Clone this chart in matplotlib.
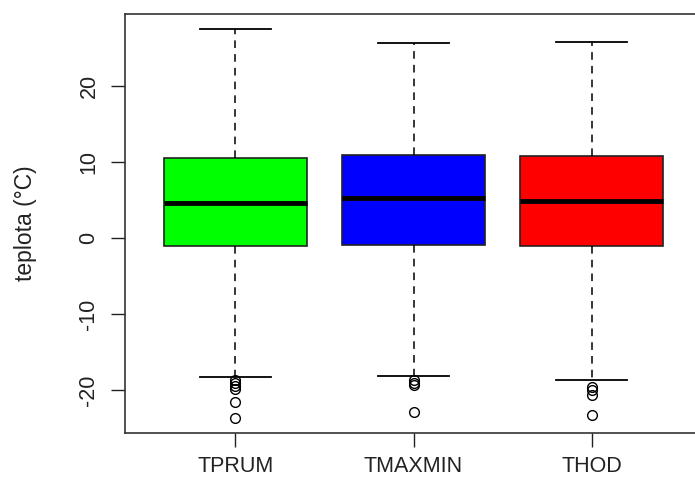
import matplotlib
matplotlib.use("Agg")
import matplotlib.pyplot as plt

plt.rcParams['font.family'] = ['Liberation Sans', 'DejaVu Sans']

categories = ["TPRUM", "TMAXMIN", "THOD"]
colors = ["#00FF00", "#0000FF", "#FF0000"]

# five-number summaries (°C)
whisker_low = [-18.3, -18.1, -18.6]
q1 = [-1.0, -0.9, -1.0]
medians = [4.7, 5.3, 4.9]
q3 = [10.6, 11.0, 10.8]
whisker_high = [27.5, 25.7, 25.8]

# outlying values below the lower whisker
outliers = [
    [-18.6, -19.0, -19.4, -19.8, -21.5, -23.6],
    [-18.6, -19.0, -19.3, -22.9],
    [-19.5, -19.9, -20.6, -23.2],
]

stats = []
for i, name in enumerate(categories):
    stats.append(dict(label=name, whislo=whisker_low[i], q1=q1[i], med=medians[i],
                      q3=q3[i], whishi=whisker_high[i], fliers=outliers[i]))

W, H = 695, 491
fig = plt.figure(figsize=(W / 100, H / 100), dpi=100)
# plot region: the right edge runs past the figure border
ax = fig.add_axes([125 / W, 58 / H, 577 / W, 419 / H])

bp = ax.bxp(stats, positions=[1, 2, 3], widths=0.8, patch_artist=True,
            boxprops=dict(linewidth=1.2, edgecolor="#222222"),
            medianprops=dict(color="black", linewidth=3.5, solid_capstyle="butt"),
            whiskerprops=dict(color="black", linewidth=1.1, linestyle=(0, (5, 4))),
            capprops=dict(color="black", linewidth=1.3),
            flierprops=dict(marker="o", markersize=7, markerfacecolor="none",
                            markeredgecolor="black", markeredgewidth=1.0),
            capwidths=0.4)
for patch, c in zip(bp["boxes"], colors):
    patch.set_facecolor(c)

ax.set_xlim(0.38, 3.62)
ax.set_ylim(-25.6, 29.5)
ax.set_yticks([-20, -10, 0, 10, 20])
ax.set_yticklabels(["-20", "-10", "0", "10", "20"], rotation=90, va="center")
ax.set_xticks([1, 2, 3])
ax.set_xticklabels(categories)
ax.tick_params(axis="both", direction="out", length=10.4, width=1.0, labelsize=15.5,
               color="#222222", labelcolor="#222222")
ax.tick_params(axis="y", pad=8)
ax.tick_params(axis="x", pad=6)
ax.set_ylabel("teplota (°C)", fontsize=16.5, color="#222222", labelpad=30)
for s in ax.spines.values():
    s.set_linewidth(1.2)
    s.set_color("#333333")

fig.savefig("out.png", dpi=100)
